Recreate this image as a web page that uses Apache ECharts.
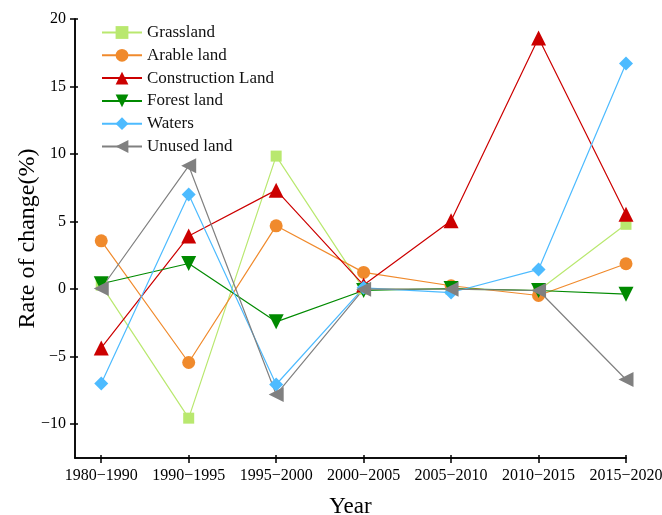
<!DOCTYPE html>
<html><head><meta charset="utf-8">
<script src="https://cdn.jsdelivr.net/npm/echarts@6/dist/echarts.min.js"></script>
<style>html,body{margin:0;padding:0;background:#fff}#c{width:662px;height:515px}</style>
</head><body><div id="c"></div>
<script>
const categories = ['1980\u22121990','1990\u22121995','1995\u22122000','2000\u22122005','2005\u22122010','2010\u22122015','2015\u22122020'];
const yTicks = [-10,-5,0,5,10,15,20];
const grassland = [0.3, -9.55, 9.85, 0.0, 0.0, -0.1, 4.8];
const arable = [3.58, -5.43, 4.69, 1.24, 0.25, -0.47, 1.88];
const construction = [-4.35, 3.93, 7.33, 0.3, 5.06, 18.6, 5.55];
const forest = [0.4, 1.9, -2.42, -0.1, 0.05, -0.1, -0.37];
const waters = [-6.99, 7.01, -7.06, 0.1, -0.25, 1.46, 16.7];
const unused = [0.05, 9.13, -7.8, 0.0, 0.0, -0.1, -6.69];

const font = 'Liberation Serif';
const idx = categories.map((_, i) => i);
const toPts = arr => arr.map((v, i) => [i, v]);

const seriesDefs = [
  {name:'Grassland', data:grassland, color:'#b9e86f', symbol:'rect', size:11, rot:0},
  {name:'Arable land', data:arable, color:'#f08a2c', symbol:'circle', size:13, rot:0},
  {name:'Construction Land', data:construction, color:'#cc0000', symbol:'triangle', size:15, rot:0},
  {name:'Forest land', data:forest, color:'#008a00', symbol:'triangle', size:15, rot:180},
  {name:'Waters', data:waters, color:'#4dbbff', symbol:'diamond', size:14, rot:0},
  {name:'Unused land', data:unused, color:'#808080', symbol:'triangle', size:15, rot:90}
];

const xBase = {
  type:'value', min:-0.3, max:6, gridIndex:0,
  axisLine:{show:true, onZero:false, lineStyle:{color:'#000', width:1.5}},
  splitLine:{show:false},
  axisTick:{show:true, customValues:idx, length:5, lineStyle:{color:'#000', width:1.5}},
};
const yBase = {
  type:'value', min:-12.5, max:20,
  axisLine:{show:true, onZero:false, lineStyle:{color:'#000', width:1.5}},
  splitLine:{show:false},
  axisTick:{show:true, customValues:yTicks, length:5, lineStyle:{color:'#000', width:1.5}},
};

const chart = echarts.init(document.getElementById('c'));
chart.setOption({
  animation:false,
  backgroundColor:'#fff',
  grid:{left:75, right:36, top:19, bottom:57, containLabel:false, outerBoundsMode:'none'},
  legend:{
    orient:'vertical', left:96, top:19, itemWidth:40, itemHeight:16, itemGap:5.8,
    textStyle:{fontFamily:font, fontSize:17, color:'#111'},
    data:seriesDefs.map(s=>s.name)
  },
  xAxis:[
    Object.assign({}, xBase, {
      name:'Year', nameLocation:'middle', nameGap:37, nameMoveOverlap:false,
      nameTextStyle:{fontFamily:font, fontSize:23, color:'#000'},
      axisLabel:{customValues:idx, fontFamily:font, fontSize:16, color:'#000', margin:10,
        formatter:v=>categories[Math.round(v)]}
    }),
    Object.assign({}, xBase, {position:'bottom', axisLabel:{show:false},
      axisTick:Object.assign({}, xBase.axisTick, {inside:true, length:3})})
  ],
  yAxis:[
    Object.assign({}, yBase, {
      name:'Rate of change(%)', nameLocation:'middle', nameGap:35, nameMoveOverlap:false,
      nameTextStyle:{fontFamily:font, fontSize:24, color:'#000'},
      axisLabel:{customValues:yTicks, fontFamily:font, fontSize:16, color:'#000', margin:9,
        formatter:v=>String(v).replace('-', '\u2212')}
    }),
    Object.assign({}, yBase, {position:'left', axisLabel:{show:false},
      axisTick:Object.assign({}, yBase.axisTick, {inside:true, length:3})})
  ],
  series:seriesDefs.map(s=>({
    name:s.name, type:'line', data:toPts(s.data),
    xAxisIndex:0, yAxisIndex:0,
    symbol:s.symbol, symbolSize:s.size, symbolRotate:s.rot, showAllSymbol:true,
    itemStyle:{color:s.color}, lineStyle:{color:s.color, width:1.2}
  }))
});
</script></body></html>
